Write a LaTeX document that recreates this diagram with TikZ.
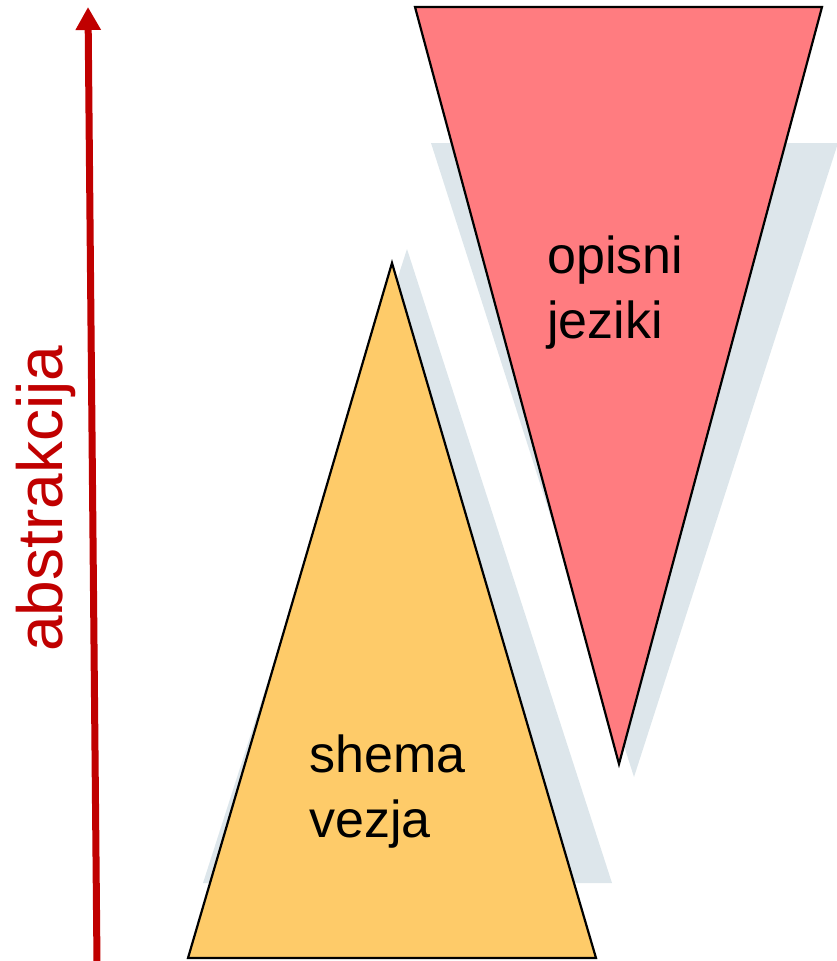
\documentclass[tikz,border=0pt]{standalone}
\usepackage{fontspec}
\setmainfont{Liberation Sans}
\usetikzlibrary{arrows.meta}

\definecolor{axisred}{HTML}{C00000}
\definecolor{pyryellow}{HTML}{FECB69}
\definecolor{pyrred}{HTML}{FF7C80}
\definecolor{shadowgrey}{HTML}{DDE6EB}

\tikzset{
  pyramid/.style={draw=black, line width=2.2pt, line join=miter},
  dropshadow/.style={fill=shadowgrey, draw=none},
  label52/.style={font=\fontsize{52}{65}\selectfont, text=black, inner sep=0pt, align=left},
  axislabel/.style={font=\fontsize{64}{70}\selectfont, text=axisred, inner sep=0pt},
}

\begin{document}
\begin{tikzpicture}[x=1pt, y=-1pt]
  \useasboundingbox (0,0) rectangle (836,961);

  % shadows behind both pyramids
  \fill[dropshadow] (407,249) -- (612,883) -- (203,883) -- cycle;
  \fill[dropshadow] (431,143) -- (838,143) -- (634,777) -- cycle;

  % lower pyramid
  \draw[pyramid, fill=pyryellow] (392,263) -- (596,958) -- (188,958) -- cycle;
  % upper, inverted pyramid
  \draw[pyramid, fill=pyrred] (415,7) -- (822,7) -- (619,764) -- cycle;

  % base anchor sits on the last line's baseline
  \node[label52, anchor=base west] (shema) at (309,837) {shema\\vezja};
  \node[label52, anchor=base west] (opisni) at (547,338) {opisni\\jeziki};

  % abstraction axis
  \coordinate (axisfoot) at (97,963);
  \coordinate (axistop) at (88,7);
  \draw[axisred, line width=7pt, -{Triangle[width=24pt,length=23pt]}] (axisfoot) -- (axistop);
  \node[axislabel, rotate=90, anchor=base west] (abstr) at (62,652) {abstrakcija};
\end{tikzpicture}
\end{document}
